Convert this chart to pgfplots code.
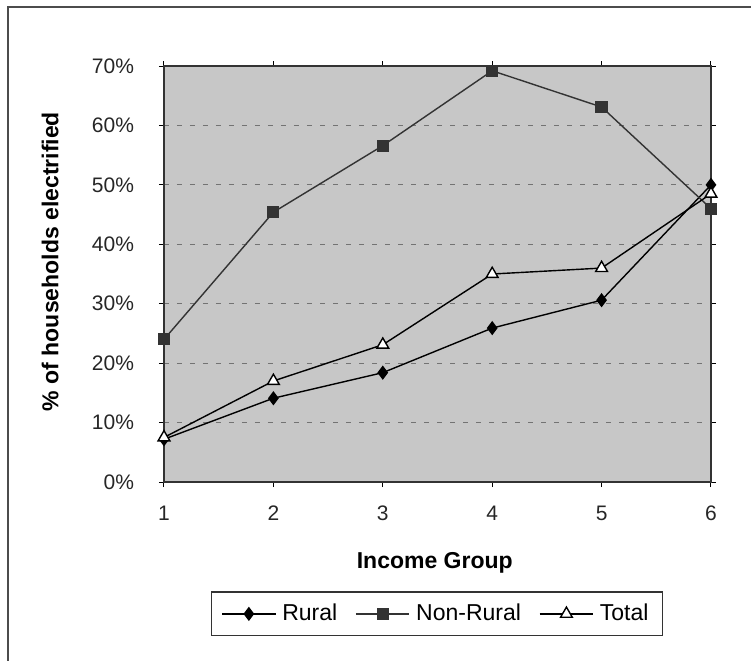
\documentclass[border=0pt]{standalone}
\usepackage{pgfplots}
\pgfplotsset{compat=1.18}
\usepackage{fontspec}
\setmainfont{Liberation Sans}
\begin{document}
\begin{tikzpicture}[x=0.5pt,y=-0.5pt]
\useasboundingbox (0,0) rectangle (751,660);
\draw[line width=0.8pt, black!70] (8,662) -- (8,7) -- (753,7);
\begin{axis}[
  at={(82pt,-241pt)}, anchor=south west,
  scale only axis, width=273.5pt, height=208pt,
  xmin=1, xmax=6, ymin=0, ymax=70,
  xtick={1,2,3,4,5,6},
  ytick={0,10,20,30,40,50,60,70},
  yticklabels={0\%,10\%,20\%,30\%,40\%,50\%,60\%,70\%},
  /pgf/number format/assume math mode=true,
  tick label style={font=\fontsize{10.5}{12}\selectfont, text=black!85},
  xticklabel style={yshift=-6pt},
  yticklabel style={xshift=-9pt},
  tick align=outside, major tick length=2.5pt,
  tick style={black, line width=0.5pt},
  axis line style={black!80, line width=0.7pt},
  axis background/.style={fill=black!22},
  ymajorgrids,
  grid style={black!55, line width=0.5pt, dash pattern=on 2.5pt off 4pt},
  xlabel={\textbf{Income Group}},
  ylabel={\textbf{\% of households electrified}},
  label style={font=\fontsize{11.5}{13}\selectfont},
  xlabel style={at={(axis description cs:0.495,-0.195)}, anchor=center},
  ylabel style={at={(axis description cs:-0.208,0.53)}, anchor=center},
  legend columns=-1,
  legend style={at={(axis description cs:0.499,-0.317)}, anchor=center,
    draw=black!80, line width=0.7pt, font=\fontsize{11.5}{13}\selectfont,
    inner xsep=5pt, inner ysep=4pt,
    /tikz/every odd column/.append style={column sep=1pt},
    /tikz/every even column/.append style={column sep=7pt}},
  legend image code/.code={
    \draw[#1, mark repeat=2, mark phase=2] plot coordinates {(0pt,0pt) (0.47cm,0pt) (0.94cm,0pt)};},
]
\addplot[black, line width=0.7pt, mark=diamond*, mark size=3pt, mark options={fill=black, solid}]
  coordinates {(1,7.2) (2,14.1) (3,18.4) (4,25.9) (5,30.6) (6,50.0)};
\addlegendentry{Rural}
\addplot[black!80, line width=0.7pt, mark=square*, mark size=2.7pt, mark options={fill=black!80, draw=black!80, solid}]
  coordinates {(1,24.0) (2,45.4) (3,56.6) (4,69.2) (5,63.1) (6,46.0)};
\addlegendentry{Non-Rural}
\addplot[black, line width=0.7pt, mark=triangle*, mark size=3.4pt, mark options={fill=white, draw=black, solid}]
  coordinates {(1,7.5) (2,17.0) (3,23.1) (4,35.0) (5,36.0) (6,48.5)};
\addlegendentry{Total}
\end{axis}
\end{tikzpicture}
\end{document}
